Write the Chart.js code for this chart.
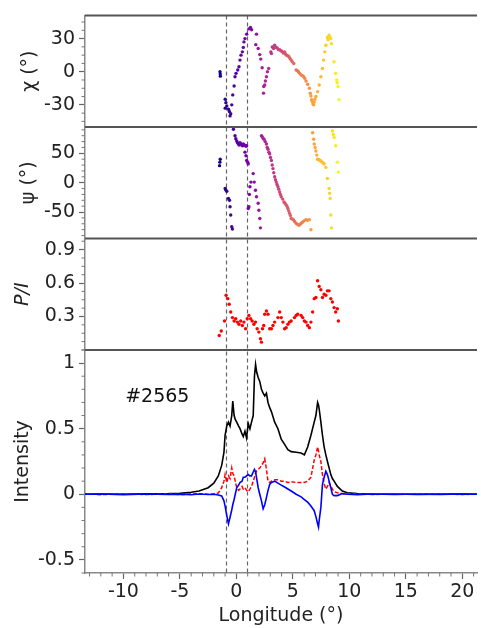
<!DOCTYPE html>
<html>
<head>
<meta charset="utf-8">
<script src="https://cdn.jsdelivr.net/npm/chart.js@4.4.0/dist/chart.umd.min.js"></script>
<style>
  body { margin: 0; background: #fff; }
  canvas { display: block; }
</style>
</head>
<body>
<canvas id="pulse" width="481" height="628"></canvas>
<script>
/* global Chart */

// ---- data ----
var lonTicks = [-10, -5, 0, 5, 10, 15, 20];
var lonTickLabels = ["-10", "-5", "0", "5", "10", "15", "20"];
var chiTicks = [-30, 0, 30];
var chiTickLabels = ["-30", "0", "30"];
var psiTicks = [-50, 0, 50];
var psiTickLabels = ["-50", "0", "50"];
var fracTicks = [0.3, 0.6, 0.9];
var fracTickLabels = ["0.3", "0.6", "0.9"];
var intTicks = [-0.5, 0, 0.5, 1];
var intTickLabels = ["-0.5", "0", "0.5", "1"];

var markerLon = [-0.95, 0.95];
var pulseLabel = "#2565";
var pulseLabelAt = [-7.0, 0.74];

// position angle chi
var chiLon = [-1.45, -1.43, -1.42, -0.99, -0.93, -0.99, -0.85, -0.7, -0.62, -0.56, -0.5, -0.41,
  -0.32, -0.2, -0.12, -0.03, 0.12, 0.23, 0.32, 0.41, 0.53, 0.61, 0.67, 0.76, 0.91, 1.11, 1.25, 1.35,
  1.78, 1.72, 1.93, 2.07, 2.16, 2.28, 2.66, 2.57, 2.51, 2.42, 2.4, 2.75, 2.86,
  3.1, 3.05, 3.18, 3.3, 3.39, 3.5, 3.62, 3.72, 3.83, 3.93, 4.03, 4.15, 4.27, 4.35, 4.44, 4.55, 4.65,
  4.75, 4.85, 4.95, 5.08, 5.29, 5.4, 5.49, 5.6, 5.73, 5.85, 5.96, 6.05, 6.16, 6.31, 6.46, 6.54, 6.6,
  6.66, 6.72, 6.78, 6.84, 6.89, 6.95, 7.04, 7.19, 7.33, 7.48, 7.62, 7.71, 7.83, 7.92, 8.06, 8.12,
  8.21, 8.3, 8.36, 8.41, 8.65, 8.79, 8.88, 8.92, 9.0, 9.09];
var chiVal = [0, -2, -4, -25, -28, -33, -31, -34, -36, -40, -38, -30,
  -21, -13, -4.5, -1.5, 1.5, 4.5, 10.5, 15, 18, 22, 27, 30, 34, 38.8, 40, 38,
  34, 24.5, 21, 15.5, 11.4, 3.6, -4.5, -8.4, -12, -13.4, -19.4, 0, 3,
  16.4, 18, 22.4, 21, 24, 22, 21.5, 20, 20, 19, 18.5, 17, 18, 16, 15, 14.5, 13.5,
  12, 10.5, 9, 7.5, 1.5, 1, 0, -1.5, -3, -3.5, -4.5, -6, -8.4, -11.4, -15, -19.4, -22,
  -25.3, -27, -29.3, -30, -27.5, -25, -22.4, -18, -12, -4.5, 3, 10.5, 18, 24, 31, 29,
  33, 31, 30, 25.4, 9, -1.5, -7.5, -10, -13.4, -25.3];

// position angle psi
var psiLon = [-1.49, -1.46, -1.43, -0.99, -0.95, -0.85, -0.7, -0.61, -0.56, -0.5, -0.41, -0.35,
  -0.26, -0.12, -0.05, 0.03, 0.1, 0.18, 0.25, 0.32, 0.4, 0.47, 0.55, 0.61, 0.68, 0.76, 0.85, 0.91,
  0.76, 0.85, 0.91, 1.0, 1.05, 1.2, 1.15, 1.11, 1.05, 1.29,
  1.49, 1.58, 1.69, 1.78, 1.93, 1.99, 2.07, 2.13,
  2.22, 2.3, 2.38, 2.45, 2.55, 2.66, 2.73, 2.8, 2.88, 2.95, 3.02, 3.1, 3.17, 3.24, 3.31, 3.39, 3.46,
  3.53, 3.6, 3.68, 3.75, 3.83, 3.9, 3.97, 4.1, 4.21, 4.3, 4.41, 4.5, 4.56, 4.63, 4.7, 4.78, 4.85,
  4.95, 5.05, 5.15, 5.29, 5.4, 5.5, 5.58, 5.7, 5.8, 5.87, 6.0, 6.16, 6.3, 6.46, 6.6,
  6.75, 6.84, 6.89, 6.97, 7.04, 7.12, 7.19, 7.3, 7.4, 7.48, 7.6, 7.7, 7.77, 7.92, 8.06, 8.21, 8.25,
  8.3, 8.36, 8.41, 8.5, 8.58, 8.65, 8.79, 8.94, 9.03];
var psiVal = [29, 35, 40, -10, -12, -14.6, -27, -30, -41, -55, -75, -79,
  91, 80, 75, 71, 68, 66, 64, 68, 66, 64, 63, 66, 64, 64, 62, 63,
  52, 46, 38, 35, 32, -7, -20, -41, -44, 1,
  15.5, 1, -13, -24, -35, -47, -61, -77,
  80, 78, 75, 74, 70, 66, 60, 57, 52, 49, 43, 38, 30, 24, 17, 10, 5,
  1, -3, -7, -11, -16, -20, -24, -28, -33, -35, -38, -41, -44, -48, -52, -56, -61,
  -62, -63, -66, -69, -71, -72, -72, -70, -68, -67, -65, -63, -64, -63, -80,
  85, 74, 66, 60, 54, 47, 40, 39, 38, 37, 35, 33, 32, 26, 7, -10, -18,
  -27, -55, -77, 88, 82, 77, 63, 35, 18];

// linear polarisation fraction P/I
var fracLon = [-1.52, -1.34, -1.05, -0.91, -0.76, -0.64, -0.5, -0.35, -0.2, -0.06, 0.09, 0.23, 0.38,
  0.53, 0.67, 0.82, 0.96, 1.11, 1.26, 1.4, 1.55, 1.69, 1.84, 1.99, 2.13, 2.22, 2.31, 2.42, 2.51,
  2.66, 2.8, 2.95, 3.1, 3.24, 3.39, 3.68, 3.83, 3.97, 4.12, 4.27, 4.41, 4.56, 4.7, 4.85, 5.14,
  5.29, 5.43, 5.73, 5.87, 6.02, 6.16, 6.31, 6.46, 6.6, 6.75, 6.89, 7.04, 7.19, 7.33, 7.48, 7.62,
  7.77, 7.92, 8.06, 8.21, 8.36, 8.5, 8.65, 8.79, 8.94, 9.03];
var fracVal = [0.13, 0.17, 0.26, 0.49, 0.46, 0.41, 0.34, 0.29, 0.26, 0.28, 0.25, 0.23, 0.26,
  0.22, 0.25, 0.19, 0.28, 0.31, 0.28, 0.26, 0.23, 0.25, 0.19, 0.16, 0.1, 0.07, 0.19, 0.22, 0.32,
  0.35, 0.32, 0.19, 0.19, 0.22, 0.25, 0.29, 0.34, 0.29, 0.25, 0.19, 0.2, 0.23, 0.25, 0.26, 0.29,
  0.31, 0.32, 0.31, 0.29, 0.26, 0.25, 0.22, 0.2, 0.25, 0.34, 0.46, 0.47, 0.62, 0.57, 0.54, 0.47,
  0.5, 0.49, 0.53, 0.53, 0.46, 0.43, 0.38, 0.34, 0.37, 0.26];

// profile: total intensity, linear and circular
var profLon = [-13.4, -12, -10, -8, -6, -5, -4, -3.3, -2.5, -2, -1.6, -1.3, -1.1, -1.0, -0.85, -0.7,
  -0.56, -0.41, -0.32, -0.2, -0.1, 0.03, 0.2, 0.32, 0.5, 0.61, 0.76, 0.9, 1.05, 1.2, 1.34, 1.49,
  1.6, 1.7, 1.8, 1.93, 2.07, 2.22, 2.37, 2.51, 2.66, 2.8, 2.95, 3.1, 3.39, 3.68, 3.97, 4.27, 4.56,
  4.85, 5.29, 5.73, 6.02, 6.31, 6.6, 6.89, 7.04, 7.19, 7.27, 7.33, 7.48, 7.62, 7.77, 7.92, 8.06,
  8.21, 8.36, 8.5, 8.65, 8.94, 9.38, 9.82, 10.7, 12, 14, 16, 18, 20, 21.3];
var totalI = [0.0, 0.002, 0.0, 0.003, 0.005, 0.008, 0.015, 0.025, 0.05, 0.085, 0.14, 0.22, 0.32,
  0.45, 0.52, 0.55, 0.52, 0.6, 0.71, 0.6, 0.57, 0.55, 0.52, 0.5, 0.46, 0.44, 0.48, 0.43, 0.54,
  0.5, 0.55, 0.6, 0.9, 0.99, 0.93, 0.89, 0.86, 0.8, 0.77, 0.75, 0.77, 0.7, 0.66, 0.63, 0.55,
  0.5, 0.42, 0.38, 0.34, 0.325, 0.32, 0.315, 0.3, 0.36, 0.45, 0.55, 0.6, 0.7, 0.68, 0.65, 0.55,
  0.45, 0.36, 0.3, 0.25, 0.2, 0.15, 0.12, 0.1, 0.06, 0.025, 0.012, 0.005, 0.0, 0.002, -0.002,
  0.0, 0.001, 0.0];
var linearL = [0.005, -0.003, 0.004, -0.002, 0.003, -0.003, 0.002, 0.004, 0.0, 0.005, 0.01, 0.05,
  0.1, 0.15, 0.09, 0.14, 0.12, 0.2, 0.16, 0.14, 0.1, 0.05, 0.03, 0.04, 0.06, 0.04, 0.05, 0.03,
  0.02, 0.04, 0.06, 0.1, 0.13, 0.16, 0.18, 0.19, 0.2, 0.22, 0.24, 0.27, 0.19, 0.1, 0.09, 0.1,
  0.11, 0.11, 0.1, 0.1, 0.09, 0.095, 0.09, 0.09, 0.09, 0.1, 0.13, 0.26, 0.3, 0.36, 0.33, 0.3,
  0.25, 0.15, 0.08, 0.04, 0.06, 0.09, 0.06, 0.04, 0.02, 0.012, 0.005, 0.0, 0.004, -0.002, 0.003,
  0.0, 0.004, -0.002, 0.002];
var circularV = [0.0, 0.002, -0.003, 0.002, -0.002, 0.001, -0.003, 0.002, -0.002, 0.0, -0.005,
  -0.013, -0.05, -0.09, -0.16, -0.225, -0.175, -0.12, -0.08, -0.04, 0.0, 0.05, 0.07, 0.09, 0.1,
  0.13, 0.13, 0.14, 0.15, 0.14, 0.14, 0.17, 0.19, 0.17, 0.12, 0.05, 0.0, -0.05, -0.11, -0.08,
  -0.025, 0.03, 0.075, 0.09, 0.1, 0.085, 0.07, 0.055, 0.04, 0.025, 0.0, -0.02, -0.04, -0.06,
  -0.09, -0.125, -0.17, -0.225, -0.25, -0.2, -0.1, 0.075, 0.13, 0.175, 0.15, 0.1, 0.05, 0.0,
  -0.01, -0.01, 0.005, 0.0, -0.003, 0.002, -0.002, 0.002, -0.001, 0.002, 0.0];

// ---- styling ----
var FONT = "'DejaVu Sans', sans-serif";
var plasmaStops = ["#0d0887", "#4c02a1", "#7e03a8", "#a92395", "#cc4778", "#e66c5c", "#f89540", "#fdc527", "#f0f921"];
var colourLo = Math.min.apply(null, chiLon.concat(psiLon));
var colourHi = Math.max.apply(null, chiLon.concat(psiLon));

function hexRgb(h) {
  return [parseInt(h.substr(1, 2), 16), parseInt(h.substr(3, 2), 16), parseInt(h.substr(5, 2), 16)];
}

function plasma(lon) {
  var t = (lon - colourLo) / (colourHi - colourLo);
  t = Math.max(0, Math.min(1, t)) * (plasmaStops.length - 1);
  var i = Math.min(Math.floor(t), plasmaStops.length - 2);
  var f = t - i;
  var a = hexRgb(plasmaStops[i]);
  var b = hexRgb(plasmaStops[i + 1]);
  return "rgb(" + Math.round(a[0] + (b[0] - a[0]) * f) + "," + Math.round(a[1] + (b[1] - a[1]) * f) + "," + Math.round(a[2] + (b[2] - a[2]) * f) + ")";
}

function pairs(xs, ys) {
  return xs.map(function (x, i) {
    return { x: x, y: ys[i] };
  });
}

function yAxis(min, max, ticks, labels, title, weight, stackWeight, titlePad, italic) {
  return {
    type: "linear",
    position: "left",
    stack: "lon",
    stackWeight: stackWeight,
    weight: weight,
    min: min,
    max: max,
    afterBuildTicks: function (s) {
      s.ticks = ticks.map(function (v) { return { value: v }; });
    },
    afterFit: function (s) {
      s.width = 85;
    },
    grid: { drawOnChartArea: false, tickLength: 6, tickColor: "#666", tickWidth: 1.2 },
    border: { color: "#888", width: 1.5 },
    ticks: {
      padding: 4,
      color: "#222",
      font: { family: FONT, size: 19 },
      callback: function (v) {
        return labels[ticks.indexOf(v)];
      },
    },
    title: {
      display: true,
      text: title,
      color: "#222",
      padding: { top: titlePad, bottom: 0 },
      font: { family: FONT, size: 19, style: italic ? "italic" : "normal" },
    },
  };
}

var minorSteps = { yChi: 7.5, yPsi: 10, yP: 0.075, yI: 0.1, x: 1 };
var majorTicks = { yChi: chiTicks, yPsi: psiTicks, yP: fracTicks, yI: intTicks, x: lonTicks };

var panelFrame = {
  id: "panelFrame",
  beforeDatasetsDraw: function (chart) {
    var ctx = chart.ctx;
    var area = chart.chartArea;
    var xs = chart.scales.x;
    ctx.save();
    ctx.strokeStyle = "#666";
    ctx.lineWidth = 1.2;
    ctx.setLineDash([4, 3]);
    markerLon.forEach(function (m) {
      var px = Math.round(xs.getPixelForValue(m)) + 0.5;
      ctx.beginPath();
      ctx.moveTo(px, area.top);
      ctx.lineTo(px, area.bottom);
      ctx.stroke();
    });
    ctx.setLineDash([]);
    ctx.fillStyle = "#111";
    ctx.font = "19px " + FONT;
    ctx.textAlign = "center";
    ctx.textBaseline = "middle";
    ctx.fillText(pulseLabel, xs.getPixelForValue(pulseLabelAt[0]), chart.scales.yI.getPixelForValue(pulseLabelAt[1]));
    ctx.restore();
  },
  afterDraw: function (chart) {
    var ctx = chart.ctx;
    var area = chart.chartArea;
    ctx.save();
    ctx.strokeStyle = "#777";
    ctx.lineWidth = 1;
    Object.keys(minorSteps).forEach(function (id) {
      var s = chart.scales[id];
      var step = minorSteps[id];
      var n0 = Math.ceil(s.min / step - 1e-6);
      var n1 = Math.floor(s.max / step + 1e-6);
      for (var n = n0; n <= n1; n++) {
        var v = n * step;
        var isMajor = majorTicks[id].some(function (m) { return Math.abs(m - v) < step / 10; });
        if (isMajor) continue;
        var p = s.getPixelForValue(v);
        ctx.beginPath();
        if (id === "x") {
          ctx.moveTo(p, s.top);
          ctx.lineTo(p, s.top + 3.5);
        } else {
          ctx.moveTo(s.right - 3.5, p);
          ctx.lineTo(s.right, p);
        }
        ctx.stroke();
      }
    });
    // panel separators
    ctx.strokeStyle = "#555";
    ctx.lineWidth = 2;
    ["yChi", "yPsi", "yP", "yI"].forEach(function (id) {
      var y = chart.scales[id].top;
      ctx.beginPath();
      ctx.moveTo(area.left, y);
      ctx.lineTo(area.right, y);
      ctx.stroke();
    });
    ctx.restore();
  },
};

var chart = new Chart(document.getElementById("pulse").getContext("2d"), {
  data: {
    datasets: [
      {
        type: "line",
        label: "V",
        data: pairs(profLon, circularV),
        yAxisID: "yI",
        borderColor: "#0000ff",
        borderWidth: 1.6,
        pointRadius: 0,
      },
      {
        type: "line",
        label: "L",
        data: pairs(profLon, linearL),
        yAxisID: "yI",
        borderColor: "#ff0000",
        borderWidth: 1.5,
        borderDash: [4, 2],
        pointRadius: 0,
      },
      {
        type: "line",
        label: "I",
        data: pairs(profLon, totalI),
        yAxisID: "yI",
        borderColor: "#000000",
        borderWidth: 1.6,
        pointRadius: 0,
      },
      {
        type: "scatter",
        label: "P/I",
        data: pairs(fracLon, fracVal),
        yAxisID: "yP",
        backgroundColor: "#ff0000",
        borderWidth: 0,
        pointRadius: 1.7,
      },
      {
        type: "scatter",
        label: "psi",
        data: pairs(psiLon, psiVal),
        yAxisID: "yPsi",
        backgroundColor: function (c) { return plasma(c.raw ? c.raw.x : 0); },
        borderWidth: 0,
        pointRadius: 1.7,
      },
      {
        type: "scatter",
        label: "chi",
        data: pairs(chiLon, chiVal),
        yAxisID: "yChi",
        backgroundColor: function (c) { return plasma(c.raw ? c.raw.x : 0); },
        borderWidth: 0,
        pointRadius: 1.7,
      },
    ],
  },
  options: {
    responsive: false,
    animation: false,
    events: [],
    layout: { padding: { top: 10, left: 0, right: 0, bottom: 0 } },
    plugins: { legend: { display: false }, tooltip: { enabled: false } },
    scales: {
      x: {
        type: "linear",
        position: "bottom",
        min: -13.4,
        max: 21.3,
        afterBuildTicks: function (s) {
          s.ticks = lonTicks.map(function (v) { return { value: v }; });
        },
        afterFit: function (s) {
          s.height = 55;
        },
        grid: { drawOnChartArea: false, tickLength: 6, tickColor: "#666", tickWidth: 1.2 },
        border: { color: "#888", width: 1.5 },
        ticks: {
          padding: 2,
          maxRotation: 0,
          autoSkip: false,
          color: "#222",
          font: { family: FONT, size: 19 },
          callback: function (v) {
            return lonTickLabels[lonTicks.indexOf(v)];
          },
        },
        title: {
          display: true,
          text: "Longitude (°)",
          color: "#222",
          padding: { top: 0, bottom: 1 },
          font: { family: FONT, size: 19 },
        },
      },
      yI: yAxis(-0.6, 1.1, intTicks, intTickLabels, "Intensity", 1, 2, 11.6, false),
      yP: yAxis(0, 1.0, fracTicks, fracTickLabels, "P/I", 2, 1, 11.6, true),
      yPsi: yAxis(-95, 95, psiTicks, psiTickLabels, "ψ (°)", 3, 1, 17.6, false),
      yChi: yAxis(-50, 51, chiTicks, chiTickLabels, "χ (°)", 4, 1, 18.6, false),
    },
  },
  plugins: [panelFrame],
});
</script>
</body>
</html>
